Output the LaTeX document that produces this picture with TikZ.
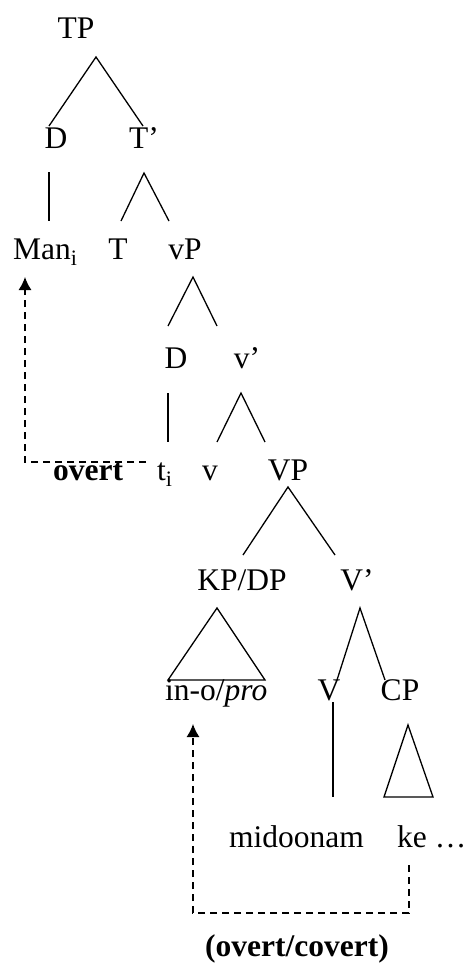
\documentclass[tikz,border=0pt]{standalone}
\usepackage{fontspec}
\setmainfont{Liberation Serif}
\usetikzlibrary{arrows.meta}
\begin{document}
\begin{tikzpicture}[x=1pt,y=-1pt,
  lbl/.style={inner sep=0pt,font=\fontsize{31.5}{37}\selectfont},
  br/.style={line width=1.3pt},
  mv/.style={line width=1.3pt,dash pattern=on 7pt off 5pt,-{Latex[length=13pt,width=13pt]}}]
\useasboundingbox (0,0) rectangle (467,966);
% text nodes
\node[lbl,anchor=base] (TP) at (76,38) {TP};
\node[lbl,anchor=base] (D1) at (56,148) {D};
\node[lbl,anchor=base] (Tb) at (144,148) {T’};
\node[lbl,anchor=base west] (Man) at (13,259) {Man\textsubscript{i}};
\node[lbl,anchor=base] (T) at (118,259) {T};
\node[lbl,anchor=base] (vP) at (185,259) {vP};
\node[lbl,anchor=base] (D2) at (176,368) {D};
\node[lbl,anchor=base] (vb) at (247,368) {v’};
\node[lbl,anchor=base west] (ti) at (157,480) {t\textsubscript{i}};
\node[lbl,anchor=base] (v) at (210,480) {v};
\node[lbl,anchor=base] (VP) at (288,480) {VP};
\node[lbl,anchor=base west,font=\fontsize{31.5}{37}\selectfont\bfseries] (overt) at (53,480) {overt};
\node[lbl,anchor=base] (KP) at (242,590) {KP/DP};
\node[lbl,anchor=base] (Vb) at (357,590) {V’};
\node[lbl,anchor=base west] (ino) at (165,700) {in-o/\textit{pro}};
\node[lbl,anchor=base] (V) at (329,700) {V};
\node[lbl,anchor=base] (CP) at (400,700) {CP};
\node[lbl,anchor=base west] (mid) at (229,847) {midoonam};
\node[lbl,anchor=base west] (ke) at (397,847) {ke …};
\node[lbl,anchor=base,font=\fontsize{31.5}{37}\selectfont\bfseries] (oc) at (297,956) {(overt/covert)};
% branch points
\coordinate (tpA) at (96,57);   \coordinate (tpL) at (49,126);  \coordinate (tpR) at (143,126);
\coordinate (d1T) at (49,172);  \coordinate (d1B) at (49,221);
\coordinate (tbA) at (144,173); \coordinate (tbL) at (121,221); \coordinate (tbR) at (169,221);
\coordinate (vpA) at (193,277); \coordinate (vpL) at (168,326); \coordinate (vpR) at (217,326);
\coordinate (d2T) at (168,393); \coordinate (d2B) at (168,442);
\coordinate (vbA) at (241,393); \coordinate (vbL) at (217,442); \coordinate (vbR) at (265,442);
\coordinate (VPA) at (288,487); \coordinate (VPL) at (243,555); \coordinate (VPR) at (335,555);
\coordinate (kpA) at (217,608); \coordinate (kpL) at (168,680); \coordinate (kpR) at (265,680);
\coordinate (VbA) at (360,608); \coordinate (VbL) at (337,680); \coordinate (VbR) at (385,680);
\coordinate (vT) at (333,702);  \coordinate (vB) at (333,797);
\coordinate (cpA) at (408,725); \coordinate (cpL) at (384,797); \coordinate (cpR) at (433,797);
% movement path points
\coordinate (m1s) at (146,462); \coordinate (m1c) at (25,462); \coordinate (m1e) at (25,277);
\coordinate (m2s) at (409,865); \coordinate (m2c) at (409,913); \coordinate (m2d) at (193,913); \coordinate (m2e) at (193,724);
% branches
\draw[br] (tpL) -- (tpA) -- (tpR);
\draw[br] (d1T) -- (d1B);
\draw[br] (tbL) -- (tbA) -- (tbR);
\draw[br] (vpL) -- (vpA) -- (vpR);
\draw[br] (d2T) -- (d2B);
\draw[br] (vbL) -- (vbA) -- (vbR);
\draw[br] (VPL) -- (VPA) -- (VPR);
\draw[br] (kpA) -- (kpL) -- (kpR) -- cycle;
\draw[br] (VbL) -- (VbA) -- (VbR);
\draw[br] (vT) -- (vB);
\draw[br] (cpA) -- (cpL) -- (cpR) -- cycle;
% movement arrows
\draw[mv] (m1s) -- (m1c) -- (m1e);
\draw[mv] (m2s) -- (m2c) -- (m2d) -- (m2e);
\end{tikzpicture}
\end{document}
